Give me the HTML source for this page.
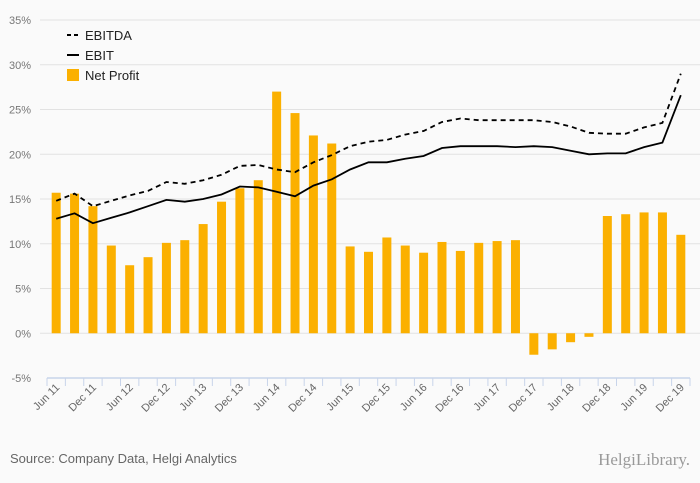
<!DOCTYPE html>
<html><head><meta charset="utf-8"><style>
body{margin:0;background:#fafafa;font-family:"Liberation Sans",sans-serif;}
svg{display:block}
</style></head><body>
<svg width="700" height="483">
<rect width="700" height="483" fill="#fafafa"/>
<g id="grid"></g><g id="bars"></g><g id="lines"></g><g id="xaxis"></g>
<g font-size="13" fill="#222">
<line x1="67" y1="35" x2="79" y2="35" stroke="#000" stroke-width="2" stroke-dasharray="4,3"/>
<text x="85" y="40">EBITDA</text>
<line x1="67" y1="55" x2="79" y2="55" stroke="#000" stroke-width="2"/>
<text x="85" y="60">EBIT</text>
<rect x="67" y="69" width="12" height="12" fill="#fbb000"/>
<text x="85" y="80">Net Profit</text>
</g>
<text x="10" y="463" font-size="13" fill="#666">Source: Company Data, Helgi Analytics</text>
<text x="690" y="465" font-size="17" fill="#999" text-anchor="end" font-family="Liberation Serif,serif">HelgiLibrary.</text>
</svg>
<script>
const labels=["Jun 11","Dec 11","Jun 12","Dec 12","Jun 13","Dec 13","Jun 14","Dec 14","Jun 15","Dec 15","Jun 16","Dec 16","Jun 17","Dec 17","Jun 18","Dec 18","Jun 19","Dec 19"];
const netProfit=[15.7,15.6,14.2,9.8,7.6,8.5,10.1,10.4,12.2,14.7,16.2,17.1,27.0,24.6,22.1,21.2,9.7,9.1,10.7,9.8,9.0,10.2,9.2,10.1,10.3,10.4,-2.4,-1.8,-1.0,-0.4,13.1,13.3,13.5,13.5,11.0];
const ebitda=[14.8,15.6,14.2,14.8,15.4,15.9,16.9,16.7,17.1,17.7,18.7,18.8,18.3,18.0,19.1,19.9,20.9,21.4,21.6,22.2,22.6,23.6,24.0,23.8,23.8,23.8,23.8,23.6,23.1,22.4,22.3,22.3,23.0,23.5,29.0];
const ebit=[12.8,13.4,12.3,12.9,13.5,14.2,14.9,14.7,15.0,15.5,16.4,16.3,15.8,15.3,16.5,17.2,18.3,19.1,19.1,19.5,19.8,20.7,20.9,20.9,20.9,20.8,20.9,20.8,20.4,20.0,20.1,20.1,20.8,21.3,26.6];
const yTicks=[-5,0,5,10,15,20,25,30,35];
const NS="http://www.w3.org/2000/svg";
const x0=47,x1=690,n=netProfit.length,step=(x1-x0)/n;
const y=v=>333.25-v*8.95;
const xc=i=>x0+step*(i+0.5);
function mk(t,a,p){const e=document.createElementNS(NS,t);for(const k in a)e.setAttribute(k,a[k]);p.appendChild(e);return e;}
const grid=document.getElementById('grid');
yTicks.forEach(v=>{
 if(v>-5){const l=mk('line',{x1:x0-7,x2:700,y1:y(v),y2:y(v),stroke:'#e2e2e2'},grid);
 
 }
 const t=mk('text',{x:31,y:y(v)+4,'font-size':11,fill:'#777','text-anchor':'end'},grid);
 t.textContent=v+'%';
 
 
});
const bars=document.getElementById('bars');
netProfit.forEach((v,i)=>{
 const r=mk('rect',{x:xc(i)-4.5,width:9,y:Math.min(y(v),y(0)),height:Math.abs(y(v)-y(0)),fill:'#fbb000'},bars);
 
 
});
const lines=document.getElementById('lines');
const pts=a=>a.map((v,i)=>xc(i).toFixed(1)+','+y(v).toFixed(1)).join(' ');
const l1=mk('polyline',{points:pts(ebitda),fill:'none',stroke:'#000','stroke-width':1.8,'stroke-dasharray':'5,4'},lines);


const l2=mk('polyline',{points:pts(ebit),fill:'none',stroke:'#000','stroke-width':1.8},lines);


const xa=document.getElementById('xaxis');
const ax=mk('line',{x1:x0,x2:x1,y1:378,y2:378,stroke:'#c8d4ea','stroke-width':1.5},xa);


for(let i=0;i<=n;i++){const tk=mk('line',{x1:x0+step*i,x2:x0+step*i,y1:378,y2:386,stroke:'#c8d4ea'},xa);
 
 }
labels.forEach((s,j)=>{
 const cx=xc(j*2)+4,cy=388;
 const t=mk('text',{x:cx,y:cy,'font-size':11,fill:'#666','text-anchor':'end',transform:`rotate(-45 ${cx} ${cy})`},xa);
 t.textContent=s;
 
 
});
</script>
</body></html>
